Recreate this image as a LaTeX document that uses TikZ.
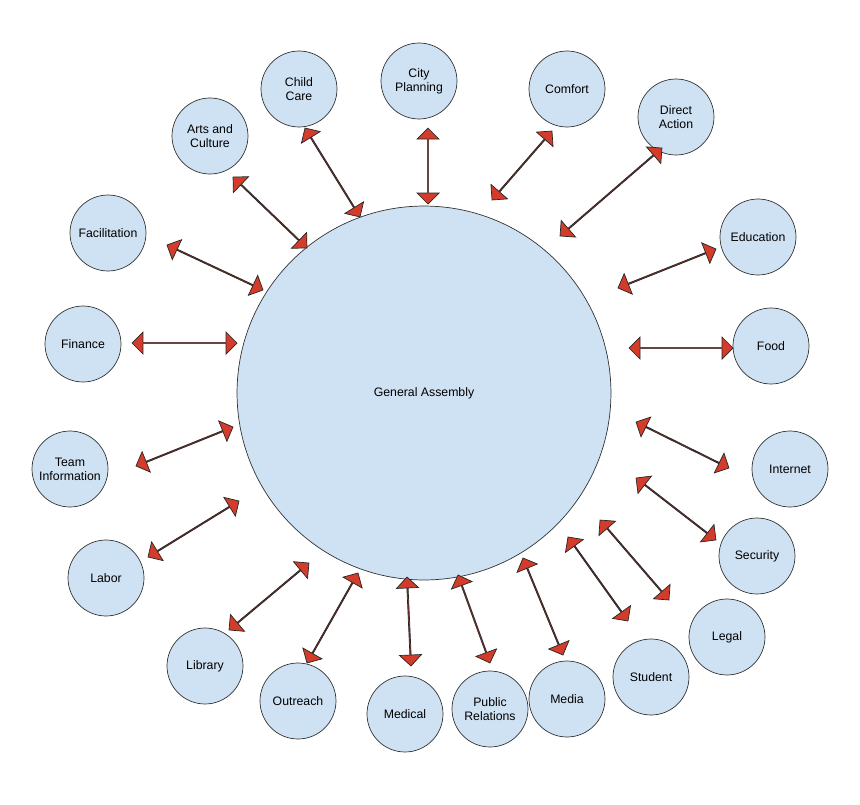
\documentclass[tikz,border=0pt]{standalone}
\usepackage{fontspec}
\setmainfont{Liberation Sans}
\usetikzlibrary{calc,shapes.arrows}
\definecolor{wgfill}{HTML}{CFE2F3}
\definecolor{arrowred}{HTML}{D33B2A}
\tikzset{
  wg/.style={circle,draw=black!80,fill=wgfill,minimum size=1.52cm,inner sep=0pt,
             align=center,font=\fontsize{7}{8}\selectfont},
  ga/.style={double arrow,draw=black!85,fill=arrowred,thin,minimum width=0.44cm,
             double arrow head extend=0.12cm,inner sep=0pt}
}
\newcommand{\garrow}[2]{%
  \path let \p1=($(#2)-(#1)$), \n1={atan2(\y1,\x1)}, \n2={veclen(\x1,\y1)} in
    node[ga,rotate=\n1,minimum height=\n2] at ($(#1)!0.5!(#2)$) {};}
\begin{document}
\begin{tikzpicture}[x=0.02cm,y=-0.02cm]
\useasboundingbox (0,0) rectangle (860,805);
\fill[white] (0,0) rectangle (860,805);
\node[circle,draw=black!80,fill=wgfill,minimum size=7.48cm,font=\fontsize{7}{8}\selectfont] (ga) at (424,393) {General Assembly};
\begin{scope}
\clip (0,0) rectangle (860,752);
\node[wg] (child) at (299,89) {Child\\Care};
\node[wg] (city) at (419,81) {City\\Planning};
\node[wg] (comfort) at (567,89) {Comfort};
\node[wg] (direct) at (676,117) {Direct\\Action};
\node[wg] (arts) at (210,136) {Arts and\\Culture};
\node[wg] (facil) at (108,233) {Facilitation};
\node[wg] (edu) at (758,237) {Education};
\node[wg] (finance) at (83,344) {Finance};
\node[wg] (food) at (771,346) {Food};
\node[wg] (team) at (70,469) {Team\\Information};
\node[wg] (internet) at (790,469) {Internet};
\node[wg] (security) at (757,556) {Security};
\node[wg] (labor) at (106,578) {Labor};
\node[wg] (legal) at (727,637) {Legal};
\node[wg] (library) at (205,666) {Library};
\node[wg] (student) at (651,677) {Student};
\node[wg] (outreach) at (298,701) {Outreach};
\node[wg] (medical) at (405,714) {Medical};
\node[wg] (pr) at (490,709) {Public\\Relations};
\node[wg] (media) at (567,699) {Media};
\end{scope}
% arrow ends
\foreach \wg/\ax/\ay/\bx/\by in {child/305/128/360/217, city/428/128/428/204, comfort/552/131/492/200,
    direct/662/148/560/236, arts/233/177/307/248, facil/167/245/263/290,
    edu/716/249/618/288, finance/132/343/237/343, food/629/348/733/348,
    team/136/466/233/427, internet/636/422/729/468, security/636/478/716/540,
    labor/148/557/239/501, legal/600/520/669/600, library/229/630/309/563,
    student/568/537/628/621, outreach/307/663/358/573, medical/407/577/411/666,
    pr/458/575/490/663, media/523/558/563/655}{
  \coordinate (\wg-s) at (\ax,\ay);
  \coordinate (\wg-t) at (\bx,\by);
  \garrow{\wg-s}{\wg-t}
}
\end{tikzpicture}
\end{document}
